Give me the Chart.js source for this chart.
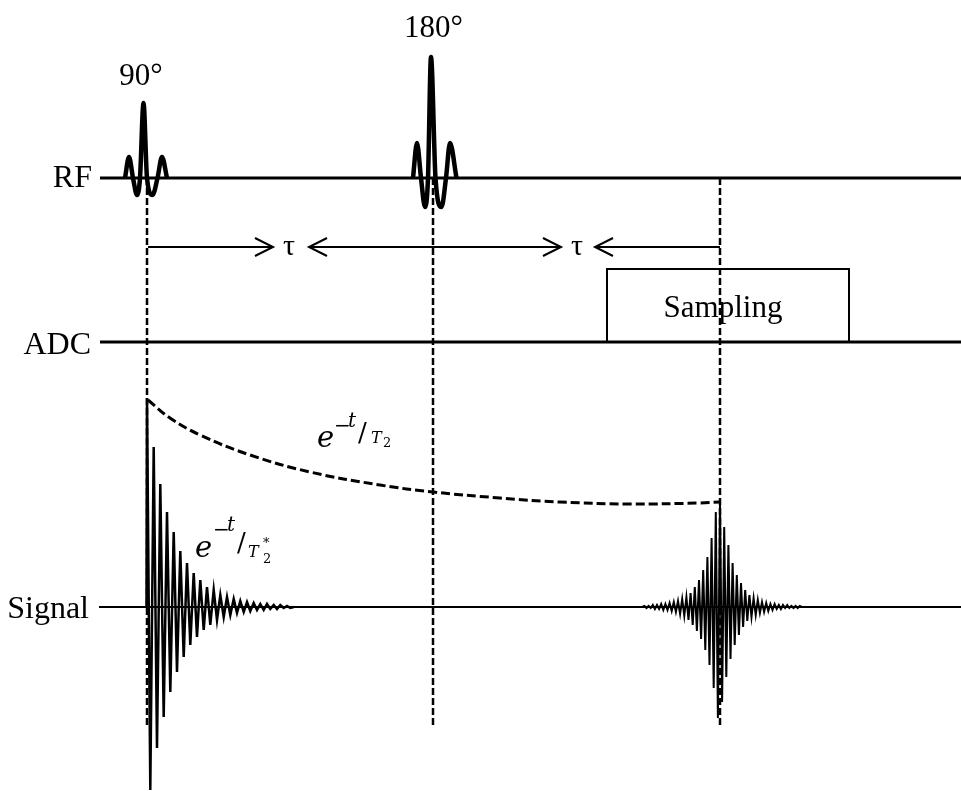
<!DOCTYPE html>
<html><head><meta charset="utf-8">
<script src="https://cdn.jsdelivr.net/npm/chart.js@4.4.1/dist/chart.umd.min.js"></script>
<style>html,body{margin:0;padding:0;background:#fff;}#wrap{width:961px;height:791px;position:relative;}</style>
</head><body><div id="wrap"><canvas id="c"></canvas></div>
<script>
// ---- time axis: t = 0 at the 90° pulse, TAU at the 180° pulse, TE = 2*TAU echo ----
const TAU = 286;
const TE = 573;
const X_MIN = -147, X_MAX = 814;
const Y_MIN = 0, Y_MAX = 791;
// channel baselines (vertical offsets of each row)
const RF_BASE = 613, ADC_BASE = 449, SIG_BASE = 184;
const LINE_START = -47;

// 90° RF pulse (sinc lobes): times and amplitudes
const rf90T = [-22, -18, -14, -10, -7, -3.5, 0, 5.5, 10.5, 15, 20];
const rf90A = [0, 21, 0, -17, 0, 75, 0, -17, 0, 21, 0];
// 180° RF pulse
const rf180T = [266, 270, 274, 278, 281, 284, 288.5, 294.5, 299, 303, 309.5];
const rf180A = [0, 35, 0, -29, 0, 121, 0, -29, 0, 35, 0];

// FID after 90°: successive extrema (time, amplitude)
const fidT = [-0.5, 0, 3.3, 6.7, 10, 13.3, 16.7, 20, 23.3, 26.7, 30, 33.3, 36.7, 40, 43.3, 46.7, 50, 53.3, 56.7, 60, 63.3, 66.7, 70, 73.3, 76.7, 80, 83.3, 86.7, 90, 93.3, 96.7, 100, 103.3, 106.7, 110, 113.3, 116.7, 120, 123.3, 126.7, 130, 133.3, 136.7, 140, 143.3, 146.7];
const fidA = [0, 209, -183, 160, -141, 123, -110, 95, -85, 75, -65, 56, -50, 44, -38, 34, -30, 27, -23, 20, -18, 17, -13, 12, -10, 10, -8, 8, -6, 6, -5, 5, -4, 4, -3, 3, -3, 3, -2, 2, -2, 2, -1, 1, -1, 0];

// spin echo around TE: offsets from TE and amplitudes
const echoOff = [-77.7, -75.6, -73.5, -71.4, -69.3, -67.2, -65.1, -63.0, -60.9, -58.8, -56.7, -54.6, -52.5, -50.4, -48.3, -46.2, -44.1, -42.0, -39.9, -37.8, -35.7, -33.6, -31.5, -29.4, -27.3, -25.2, -23.1, -21.0, -18.9, -16.8, -14.7, -12.6, -10.5, -8.4, -6.3, -4.2, -2.1, 0, 2.1, 4.2, 6.3, 8.4, 10.5, 12.6, 14.7, 16.8, 18.9, 21.0, 23.1, 25.2, 27.3, 29.4, 31.5, 33.6, 35.7, 37.8, 39.9, 42.0, 44.1, 46.2, 48.3, 50.4, 52.5, 54.6, 56.7, 58.8, 60.9, 63.0, 65.1, 67.2, 69.3, 71.4, 73.5, 75.6, 77.7, 79.8, 81.9];
const echoA = [0, 1, -1, 1, -1, 2, -2, 2, -2, 3, -3, 3, -3, 4, -4, 5, -5, 6, -7, 8, -9, 10, -13, 14, -18, 20, -24, 27, -32, 37, -43, 50, -58, 69, -81, 95, -111, 105, -95, 80, -70, 62, -52, 44, -38, 32, -28, 24, -20, 17, -14, 12, -10, 9, -8, 7, -6, 5, -5, 4, -4, 3, -3, 3, -2, 2, -2, 2, -1, 2, -1, 1, -1, 1, -1, 1, 0];

// T2 decay envelope (dashed)
const t2EnvT = [1, 23, 53, 103, 163, 233, 286, 353, 413, 483, 553, 573];
const t2EnvA = [207, 189, 172, 152, 135, 122, 115, 109, 105, 103, 104, 105];

// Sampling window on ADC
const adcWinT = [460, 460, 702, 702];
const adcWinA = [0, 73, 73, 0];

// vertical timing markers
const markerT = [0, TAU, TE];
const markerTopY = [613, 613, 613];
const markerBotY = [64, 66, 66];

// tau timing arrows row
const ARROW_Y = 544;
const arrowSegs = [[1, 126], [162, 414], [448, TE]];
const arrowTipsRight = [126, 414];
const arrowTipsLeft = [162, 448];

const rowLabels = ['RF', 'ADC', 'Signal'];
const pulseLabels = ['90°', '180°'];

function pts(ts, as, base) { return ts.map((t, i) => ({ x: t, y: base + as[i] })); }

const datasets = [];
function add(data, opt) { datasets.push(Object.assign({ data, borderColor: '#000', borderWidth: 2, pointRadius: 0, tension: 0, fill: false }, opt || {})); }

// baselines
add([{ x: LINE_START, y: RF_BASE }, { x: X_MAX, y: RF_BASE }], { borderWidth: 3 });
add([{ x: LINE_START, y: ADC_BASE }, { x: X_MAX, y: ADC_BASE }], { borderWidth: 3 });
add([{ x: LINE_START - 1, y: SIG_BASE }, { x: X_MAX, y: SIG_BASE }], { borderWidth: 2 });
// pulses
add(pts(rf90T, rf90A, RF_BASE), { borderWidth: 4.5, cubicInterpolationMode: 'monotone' });
add(pts(rf180T, rf180A, RF_BASE), { borderWidth: 4.5, cubicInterpolationMode: 'monotone' });
// markers
markerT.forEach((t, i) => add([{ x: t, y: markerTopY[i] }, { x: t, y: markerBotY[i] }], { borderWidth: 2.5, borderDash: [7, 3] }));
// signals
add(pts(fidT, fidA, SIG_BASE), { borderWidth: 2.5 });
add(pts(echoOff.map(o => TE + o), echoA, SIG_BASE), { borderWidth: 2 });
add(pts(t2EnvT, t2EnvA, SIG_BASE), { borderWidth: 3, borderDash: [9, 4], tension: 0.4 });
// sampling box
add(pts(adcWinT, adcWinA, ADC_BASE), { borderWidth: 2 });
// arrows
arrowSegs.forEach(s => add([{ x: s[0], y: ARROW_Y }, { x: s[1], y: ARROW_Y }], { borderWidth: 2 }));
arrowTipsRight.forEach(t => add([{ x: t - 18, y: ARROW_Y + 9 }, { x: t, y: ARROW_Y }, { x: t - 18, y: ARROW_Y - 9 }], { borderWidth: 2 }));
arrowTipsLeft.forEach(t => add([{ x: t + 18, y: ARROW_Y + 9 }, { x: t, y: ARROW_Y }, { x: t + 18, y: ARROW_Y - 9 }], { borderWidth: 2 }));

const SERIF = "'Liberation Serif','Times New Roman',serif";
const MATH = "'DejaVu Serif',serif";
const labels = [
  { text: rowLabels[0], t: -55, y: 604, font: '32px ' + SERIF, align: 'right' },
  { text: rowLabels[1], t: -56, y: 437, font: '32px ' + SERIF, align: 'right' },
  { text: rowLabels[2], t: -58, y: 173, font: '32px ' + SERIF, align: 'right' },
  { text: pulseLabels[0], t: -6, y: 706, font: '31px ' + SERIF, align: 'center' },
  { text: pulseLabels[1], t: 286.5, y: 754, font: '31px ' + SERIF, align: 'center' },
  { text: 'Sampling', t: 576, y: 474, font: '31px ' + SERIF, align: 'center' },
  { text: 'τ', t: 142, y: 536, font: '30px ' + SERIF, align: 'center' },
  { text: 'τ', t: 430, y: 536, font: '30px ' + SERIF, align: 'center' },
  // e^{-t}/T2
  { text: 'e', t: 170, y: 344, font: 'italic 29px ' + MATH, align: 'left' },
  { text: '−', t: 187, y: 359, font: '20px ' + MATH, align: 'left' },
  { text: 't', t: 201, y: 364, font: 'italic 20px ' + MATH, align: 'left' },
  { text: '/', t: 211, y: 350, font: '26px ' + MATH, align: 'left' },
  { text: 'T', t: 224, y: 348, font: 'italic 16px ' + MATH, align: 'left' },
  { text: '2', t: 236, y: 344, font: '13px ' + MATH, align: 'left' },
  // e^{-t}/T2*
  { text: 'e', t: 48, y: 234, font: 'italic 29px ' + MATH, align: 'left' },
  { text: '−', t: 66, y: 255, font: '20px ' + MATH, align: 'left' },
  { text: 't', t: 80, y: 260, font: 'italic 20px ' + MATH, align: 'left' },
  { text: '/', t: 90, y: 240, font: '26px ' + MATH, align: 'left' },
  { text: 'T', t: 101, y: 234, font: 'italic 16px ' + MATH, align: 'left' },
  { text: '*', t: 116, y: 244, font: '13px ' + MATH, align: 'left' },
  { text: '2', t: 116, y: 228, font: '13px ' + MATH, align: 'left' }
];

const textPlugin = {
  id: 'diagramText',
  beforeDraw(chart) {
    const c = chart.ctx; c.save(); c.fillStyle = '#fff'; c.fillRect(0, 0, chart.width, chart.height); c.restore();
  },
  afterDatasetsDraw(chart) {
    const c = chart.ctx, sx = chart.scales.x, sy = chart.scales.y;
    c.save(); c.fillStyle = '#000'; c.textBaseline = 'alphabetic';
    labels.forEach(l => { c.font = l.font; c.textAlign = l.align; c.fillText(l.text, sx.getPixelForValue(l.t), sy.getPixelForValue(l.y)); });
    c.restore();
  }
};

new Chart(document.getElementById('c'), {
  type: 'line',
  data: { datasets },
  options: {
    responsive: true, maintainAspectRatio: false, animation: false,
    layout: { padding: 0 },
    plugins: { legend: { display: false }, tooltip: { enabled: false } },
    scales: {
      x: { type: 'linear', min: X_MIN, max: X_MAX, display: false },
      y: { type: 'linear', min: Y_MIN, max: Y_MAX, display: false }
    },
    datasets: { line: { clip: false } }
  },
  plugins: [textPlugin]
});
</script></body></html>
